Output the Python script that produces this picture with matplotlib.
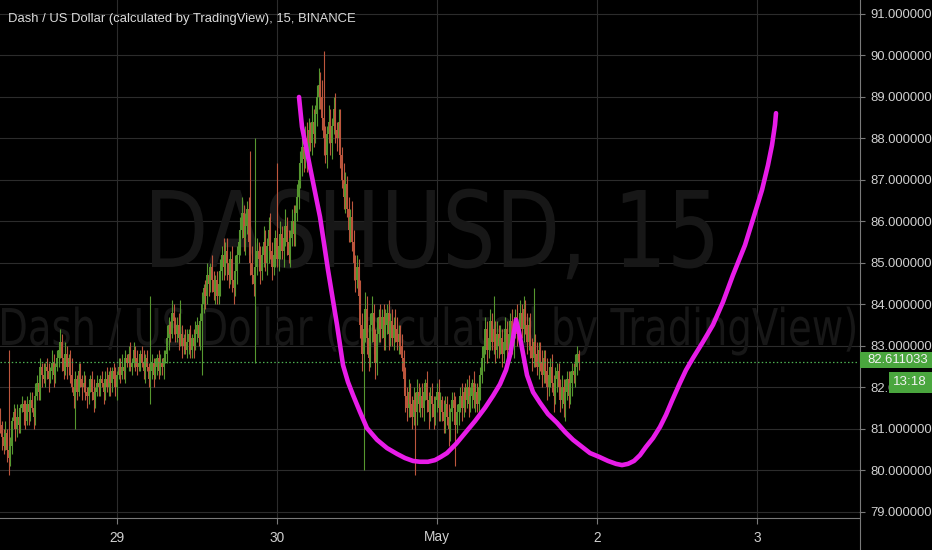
import numpy as np
import pandas as pd
import matplotlib
matplotlib.use("Agg")
import matplotlib.pyplot as plt
import matplotlib.dates as mdates
from matplotlib.patches import Rectangle, PathPatch
from matplotlib.lines import Line2D
from matplotlib.textpath import TextPath
from matplotlib.font_manager import FontProperties
from matplotlib.transforms import Affine2D

# --- data (15 min candles, DASHUSD) ---
start_time = "2020-04-28 06:30"
first_open = 81.3
closes = [
    81.1, 80.8, 80.6, 80.9, 80.5, 80.3, 80.6, 81.2, 81.4, 81.0, 81.3, 81.1,
    81.5, 81.6, 81.4, 81.2, 81.6, 81.4, 81.7, 81.5, 81.3, 81.8, 82.1, 81.9,
    82.5, 82.3, 82.2, 82.5, 82.4, 82.2, 82.4, 82.6, 82.3, 82.5, 82.7, 82.9,
    83.1, 82.7, 82.4, 82.8, 82.5, 82.7, 82.3, 82.0, 81.8, 82.2, 81.9, 82.4,
    82.2, 82.0, 82.1, 81.9, 81.8, 82.0, 82.2, 81.9, 81.7, 81.9, 82.1, 82.0,
    82.2, 82.1, 81.9, 82.2, 82.0, 82.3, 82.1, 82.4, 82.2, 82.0, 82.3, 82.5,
    82.3, 82.5, 82.4, 82.7, 82.6, 82.8, 82.5, 82.6, 82.9, 82.7, 82.5, 82.6,
    82.8, 82.6, 82.4, 82.7, 82.5, 82.2, 82.4, 82.6, 82.3, 82.5, 82.7, 82.4,
    82.6, 82.5, 82.7, 82.8, 83.2, 83.5, 83.3, 83.8, 83.6, 83.3, 83.5, 83.2,
    83.3, 83.0, 83.2, 82.9, 83.1, 83.3, 82.9, 83.2, 83.0, 83.3, 83.5, 83.2,
    83.6, 84.0, 84.4, 84.2, 84.7, 84.5, 84.9, 84.6, 84.3, 84.6, 84.2, 84.5,
    84.8, 85.2, 84.9, 85.3, 85.0, 84.7, 85.1, 84.6, 84.4, 84.8, 85.2, 85.5,
    85.8, 86.2, 85.6, 85.9, 86.3, 85.5, 85.0, 84.7, 84.5, 84.9, 85.3, 85.1,
    84.8, 85.2, 85.5, 85.0, 85.4, 85.8, 85.3, 84.9, 85.2, 85.6, 85.1, 85.4,
    85.7, 85.3, 85.6, 85.9, 85.5, 85.2, 85.6, 86.0, 85.7, 86.2, 86.6, 87.0,
    87.4, 87.8, 87.5, 88.0, 87.6, 88.2, 87.9, 88.4, 88.1, 88.6, 89.0, 89.3,
    89.0, 88.5, 88.0, 87.6, 88.1, 88.4, 87.9, 88.3, 88.7, 88.2, 88.0, 88.4,
    87.6, 87.0, 86.6, 86.9, 86.3, 85.8, 86.1, 85.5, 85.0, 84.6, 84.9, 84.2,
    83.5, 82.8, 83.4, 83.9, 83.2, 82.7, 83.5, 83.8, 83.1, 82.6, 83.3, 83.7,
    83.4, 83.7, 83.2, 83.5, 83.8, 83.3, 83.6, 83.2, 83.5, 83.4, 83.1, 83.3,
    83.0, 82.7, 82.2, 81.8, 81.5, 81.9, 81.6, 81.3, 81.7, 81.4, 81.9, 81.6,
    81.8, 81.5, 81.9, 82.1, 81.7, 81.4, 81.8, 81.6, 81.3, 81.7, 81.9, 81.5,
    81.7, 81.4, 81.2, 81.6, 81.3, 81.0, 81.4, 81.7, 81.5, 81.1, 81.4, 81.6,
    81.8, 81.5, 81.9, 81.7, 82.0, 81.6, 81.8, 82.1, 81.7, 81.9, 81.6, 82.0,
    82.3, 82.7, 83.0, 83.4, 82.9, 83.2, 83.6, 83.1, 83.4, 82.9, 83.3, 83.0,
    83.2, 82.8, 83.1, 83.4, 82.9, 83.3, 83.6, 83.0, 83.4, 83.7, 83.3, 83.5,
    83.8, 83.4, 83.9, 83.5, 83.1, 83.5, 83.0, 82.7, 83.1, 82.8, 82.5, 82.9,
    82.6, 82.3, 82.7, 82.4, 82.0, 82.3, 82.5, 82.1, 81.8, 82.2, 82.4, 82.0,
    81.7, 82.0, 81.6, 81.9, 82.2, 81.8, 82.1, 82.4, 82.3, 82.5, 82.8, 82.611033,
]
# upper / lower wick lengths, in tenths of a dollar
wick_up = [
    2, 1, 2, 3, 1, 24, 2, 1, 2, 1, 3, 2,
    1, 2, 1, 3, 2, 1, 2, 2, 1, 3, 2, 1,
    2, 1, 3, 1, 2, 2, 1, 3, 2, 1, 2, 1,
    3, 2, 1, 3, 2, 1, 2, 4, 1, 2, 1, 2,
    2, 1, 3, 2, 1, 2, 1, 2, 3, 1, 2, 1,
    1, 2, 1, 2, 3, 1, 2, 1, 2, 3, 1, 2,
    2, 3, 1, 2, 1, 2, 3, 1, 2, 1, 2, 1,
    1, 2, 3, 1, 2, 1, 18, 2, 1, 2, 1, 2,
    2, 1, 2, 1, 3, 2, 1, 3, 2, 1, 2, 3,
    8, 2, 1, 2, 3, 1, 2, 1, 2, 3, 2, 1,
    2, 3, 1, 2, 3, 2, 1, 3, 2, 1, 2, 3,
    3, 2, 4, 2, 3, 1, 2, 3, 2, 4, 2, 3,
    3, 4, 2, 3, 2, 3, 22, 4, 2, 31, 3, 2,
    3, 2, 4, 3, 2, 3, 4, 2, 3, 2, 18, 3,
    3, 2, 3, 4, 2, 3, 2, 3, 4, 2, 3, 4,
    3, 4, 2, 3, 4, 3, 2, 4, 3, 2, 3, 4,
    3, 4, 16, 3, 2, 4, 3, 2, 3, 4, 2, 3,
    3, 2, 4, 3, 2, 3, 2, 4, 3, 2, 3, 2,
    4, 3, 2, 4, 3, 2, 3, 4, 2, 3, 4, 2,
    3, 2, 3, 4, 2, 3, 2, 3, 2, 4, 3, 2,
    2, 3, 2, 3, 2, 3, 2, 2, 3, 2, 3, 2,
    2, 3, 2, 1, 3, 2, 2, 3, 2, 1, 2, 3,
    2, 1, 3, 2, 2, 3, 1, 2, 2, 3, 2, 1,
    2, 3, 1, 2, 2, 3, 2, 1, 3, 2, 2, 3,
    2, 3, 2, 3, 2, 2, 3, 2, 8, 2, 3, 2,
    3, 2, 2, 3, 2, 3, 2, 3, 2, 2, 3, 2,
    3, 2, 3, 2, 3, 2, 3, 2, 13, 2, 3, 2,
    2, 3, 2, 2, 3, 2, 2, 3, 2, 3, 2, 2,
    2, 3, 2, 3, 2, 2, 3, 2, 2, 3, 2, 1,
]
wick_dn = [
    2, 3, 2, 1, 3, 4, 2, 2, 1, 3, 2, 2,
    2, 1, 3, 2, 1, 3, 2, 1, 3, 2, 1, 2,
    2, 3, 1, 2, 2, 3, 1, 2, 3, 2, 1, 2,
    2, 3, 2, 1, 3, 2, 2, 1, 3, 8, 2, 1,
    2, 3, 1, 2, 3, 2, 1, 2, 3, 2, 1, 2,
    2, 1, 3, 2, 1, 2, 3, 2, 1, 2, 3, 1,
    2, 1, 2, 3, 1, 2, 1, 2, 1, 3, 2, 1,
    2, 1, 2, 3, 1, 2, 6, 2, 3, 1, 2, 2,
    1, 2, 3, 1, 2, 3, 2, 1, 3, 2, 2, 3,
    2, 3, 2, 1, 2, 3, 2, 2, 3, 1, 2, 2,
    3, 13, 2, 3, 2, 3, 2, 3, 2, 3, 2, 2,
    3, 2, 3, 2, 4, 3, 2, 3, 4, 2, 3, 2,
    3, 2, 3, 4, 2, 3, 3, 2, 3, 19, 2, 3,
    3, 2, 3, 2, 3, 4, 2, 3, 2, 3, 2, 3,
    3, 2, 4, 2, 3, 2, 3, 2, 3, 3, 2, 3,
    2, 3, 3, 2, 4, 3, 2, 3, 3, 2, 3, 3,
    3, 3, 4, 2, 3, 2, 3, 4, 2, 3, 3, 2,
    3, 2, 3, 4, 2, 3, 3, 2, 4, 3, 2, 3,
    3, 4, 28, 3, 4, 3, 2, 4, 3, 4, 3, 2,
    3, 2, 3, 3, 2, 4, 3, 2, 3, 3, 2, 3,
    2, 3, 3, 4, 3, 2, 3, 3, 2, 15, 3, 2,
    3, 2, 3, 2, 3, 4, 2, 3, 3, 2, 3, 3,
    3, 2, 3, 3, 2, 4, 3, 2, 3, 10, 2, 3,
    2, 3, 2, 3, 2, 3, 2, 3, 2, 3, 2, 3,
    3, 2, 3, 2, 3, 2, 3, 2, 3, 3, 2, 3,
    2, 3, 2, 2, 3, 2, 3, 2, 3, 2, 3, 2,
    3, 2, 3, 2, 3, 2, 3, 3, 2, 3, 2, 3,
    2, 3, 2, 3, 3, 2, 3, 2, 4, 2, 3, 2,
    3, 2, 3, 4, 2, 3, 2, 3, 2, 3, 2, 2,
]
last_price = 82.611033
countdown = "13:18"

# hand drawn magenta curve: days after 2020-04-28 00:00, price
curve_days = [2.1375, 2.1563, 2.1813, 2.2063, 2.2375, 2.2688, 2.3188, 2.375,
              2.4125, 2.4438, 2.475, 2.5188, 2.5625, 2.625, 2.6875, 2.75, 2.8,
              2.85, 2.8938, 2.9438, 2.9875, 3.025, 3.0625, 3.1188, 3.1813,
              3.2375, 3.3, 3.35, 3.3938, 3.4313, 3.4563, 3.475, 3.4938,
              3.5125, 3.5313, 3.5625, 3.6, 3.6438, 3.6938, 3.75, 3.8, 3.85,
              3.9063, 3.9563, 4.0125, 4.0688, 4.1188, 4.1563, 4.1938, 4.2313,
              4.2688, 4.3063, 4.35, 4.3938, 4.4313, 4.4688, 4.5125, 4.5563,
              4.6, 4.6625, 4.725, 4.7875, 4.85, 4.925, 4.9875, 5.0313, 5.0688,
              5.0938, 5.1125, 5.1188]
curve_price = [89.00, 88.28, 87.80, 87.31, 86.71, 86.11, 84.83, 83.51,
               82.54, 82.13, 81.82, 81.41, 81.02, 80.74, 80.54, 80.40, 80.30,
               80.23, 80.21, 80.21, 80.25, 80.33, 80.42, 80.64, 80.93,
               81.19, 81.51, 81.80, 82.08, 82.42, 82.78, 83.19, 83.63,
               83.34, 82.95, 82.30, 81.89, 81.63, 81.36, 81.15, 80.93, 80.74,
               80.57, 80.42, 80.33, 80.23, 80.16, 80.13, 80.16, 80.23,
               80.37, 80.57, 80.78, 81.05, 81.34, 81.68, 82.06, 82.42,
               82.71, 83.10, 83.51, 84.06, 84.71, 85.43, 86.21, 86.76, 87.36,
               87.84, 88.33, 88.61]

day_ticks = ["2020-04-29", "2020-04-30", "2020-05-01", "2020-05-02", "2020-05-03"]
day_labels = ["29", "30", "May", "2", "3"]
price_ticks = [79, 80, 81, 82, 83, 84, 85, 86, 87, 88, 89, 90, 91]
title = "Dash / US Dollar (calculated by TradingView), 15, BINANCE"

# --- build candles ---
W, H = 932, 550
base = mdates.date2num(pd.Timestamp("2020-04-28").to_pydatetime())
times = pd.date_range(start_time, periods=len(closes), freq="15min")
x = mdates.date2num(times.to_pydatetime())
c = np.array(closes)
o = np.concatenate([[first_open], c[:-1]])
hi = np.maximum(o, c) + np.array(wick_up) / 10.0
lo = np.minimum(o, c) - np.array(wick_dn) / 10.0
up_col, dn_col = "#56972f", "#bd563d"
cols = [up_col if cc >= oo else dn_col for oo, cc in zip(o, c)]

fig = plt.figure(figsize=(W / 100, H / 100), dpi=100, facecolor="black")
ax = fig.add_axes([0, 32 / H, 859 / W, 518 / H])
ax.set_facecolor("black")

ax.vlines(x, lo, hi, colors=cols, lw=0.8, zorder=2)
ax.vlines(x, np.minimum(o, c), np.maximum(o, c), colors=cols, lw=1.4, zorder=2)
ax.axhline(last_price, color="#4caf50", ls=(0, (1.2, 1.8)), lw=0.9, zorder=3)
ax.plot(base + np.array(curve_days), curve_price, color="#e81ce8", lw=3.3,
        solid_capstyle="round", solid_joinstyle="round", zorder=4)

ax.set_xlim(base + 0.26875, base + 5.6375)
ax.set_ylim(78.855, 91.337)

# watermark, drawn in pixel space so it can be stretched to the reference box
def watermark(s, x0, x1, base_y, cap):
    tp = TextPath((0, 0), s, size=100, prop=FontProperties(family="DejaVu Sans"))
    bb = tp.get_extents()
    sx = (x1 - x0) / bb.width
    sy = cap / 72.9
    tr = Affine2D().translate(-bb.x0, 0).scale(sx, sy).translate(x0, H - base_y)
    ax.add_patch(PathPatch(tp, transform=tr, facecolor="#171717", lw=0, zorder=1))

watermark("DASHUSD, 15", 152, 713, 267, 77)
watermark("Dash / US Dollar (calculated by TradingView)", 2, 855, 345, 37)

# axes styling
ax.set_yticks(price_ticks)
ax.set_yticklabels([f"{v:.6f}" for v in price_ticks])
ax.yaxis.tick_right()
ax.set_xticks([mdates.date2num(pd.Timestamp(d).to_pydatetime()) for d in day_ticks])
ax.set_xticklabels(day_labels)
tick_font = "Liberation Sans"
ax.tick_params(axis="y", colors="#7a7a7a", labelcolor="#d0d0d0", length=4,
               width=0.8, pad=4, labelsize=9.4)
ax.tick_params(axis="x", colors="#7a7a7a", labelcolor="#d0d0d0", length=4,
               width=0.8, pad=5, labelsize=9.8)
for lab in ax.get_yticklabels() + ax.get_xticklabels():
    lab.set_family(tick_font)
ax.grid(True, color="#2c2c2c", lw=0.8)
ax.set_axisbelow(True)
for s in ["left", "top", "right"]:
    ax.spines[s].set_visible(False)
ax.spines["bottom"].set_color("#7a7a7a")
ax.spines["bottom"].set_linewidth(0.8)

fig.add_artist(Line2D([859.5 / W, 859.5 / W], [0, 1], color="#7a7a7a", lw=0.8,
                      transform=fig.transFigure))

ax.text(8 / 859, (518 - 22) / 518, title, transform=ax.transAxes, color="#dcdcdc",
        fontsize=9.4, family="Liberation Sans", va="baseline", ha="left", zorder=6)

# last price and countdown labels
fig.add_artist(Rectangle((860 / W, (H - 368) / H), 72 / W, 16 / H,
                         transform=fig.transFigure, facecolor="#4aa63e", lw=0, zorder=5))
fig.text(867 / W, (H - 360) / H, f"{last_price:.6f}", color="#f2f2f2", fontsize=9.4,
         family=tick_font, va="center", ha="left", zorder=6)
fig.add_artist(Rectangle((889 / W, (H - 393) / H), 43 / W, 21 / H,
                         transform=fig.transFigure, facecolor="#4aa63e", lw=0, zorder=5))
fig.text(910 / W, (H - 382) / H, countdown, color="#f2f2f2", fontsize=9.6,
         family=tick_font, va="center", ha="center", zorder=6)

fig.savefig("out.png", dpi=100, facecolor="black")
